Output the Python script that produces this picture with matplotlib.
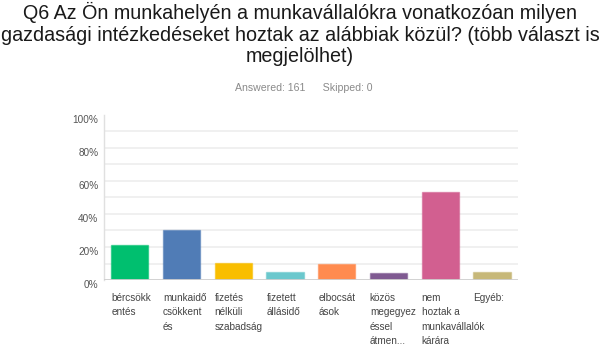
import matplotlib
matplotlib.use("Agg")
import matplotlib.pyplot as plt
import matplotlib.colors as mcolors

plt.rcParams['font.family'] = ['Liberation Sans', 'DejaVu Sans']

categories = ["bércsökk\nentés", "munkaidő\ncsökkent\nés", "fizetés\nnélküli\nszabadság",
              "fizetett\nállásidő", "elbocsát\nások", "közös\nmegegyez\néssel\nátmen...",
              "nem\nhoztak a\nmunkavállalók\nkárára", "Egyéb:"]
percents = [21.12, 30.43, 10.56, 4.97, 9.94, 4.35, 53.42, 4.97]
colors = ["#00bf6f", "#507cb6", "#f9be00", "#6bc8cd", "#ff8b4f", "#7f5a91", "#d25f90", "#c7b879"]
yticks = [0, 20, 40, 60, 80, 100]

fig = plt.figure(figsize=(6.0, 3.47), dpi=100)
ax = fig.add_axes([0.1733, 0.193, 0.6897, 0.476])

w = 0.72
x = list(range(len(categories)))
edge = [mcolors.to_rgba(c, 0.55) for c in colors]
ax.bar(x, percents, width=w, color=colors, edgecolor=edge, linewidth=1.0, zorder=3)

ax.set_xlim(-0.5, len(categories) - 0.5)
ax.set_ylim(0, 100)
for g in range(10, 100, 10):
    ax.axhline(g, color="#ececec", lw=1.1, zorder=1)
ax.axhline(0, color="#cfcfcf", lw=1.3, zorder=4)

for s in ["top", "right", "bottom"]:
    ax.spines[s].set_visible(False)
ax.spines["left"].set_color("#e0e0e0")
ax.spines["left"].set_linewidth(1.0)

ax.set_yticks(yticks)
ax.set_yticklabels([f"{v}%" for v in yticks], fontsize=7.2, color="#555555", va="top")
ax.tick_params(axis="y", length=0, pad=4)

# category labels, one text per line, left-aligned at the bar's left edge
ax.set_xticks([])
for i, lab in zip(x, categories):
    for j, line in enumerate(lab.split("\n")):
        ax.annotate(line, xy=(i - w / 2, 0), xycoords=ax.get_xaxis_transform(),
                    xytext=(0, -18 - 14.3 * j), textcoords="offset pixels",
                    ha="left", va="center", fontsize=7.2, color="#444444")

fig.text(0.5, 0.995, "Q6 Az Ön munkahelyén a munkavállalókra vonatkozóan milyen\n"
         "gazdasági intézkedéseket hoztak az alábbiak közül? (több választ is\n"
         "megjelölhet)", ha="center", va="top", fontsize=14.25, color="#1a1a1a",
         linespacing=1.19)
fig.text(0.507, 1 - 88 / 347, "Answered: 161      Skipped: 0", ha="center", va="center",
         fontsize=7.6, color="#8a8a8a")

fig.savefig("out.png", dpi=100)
